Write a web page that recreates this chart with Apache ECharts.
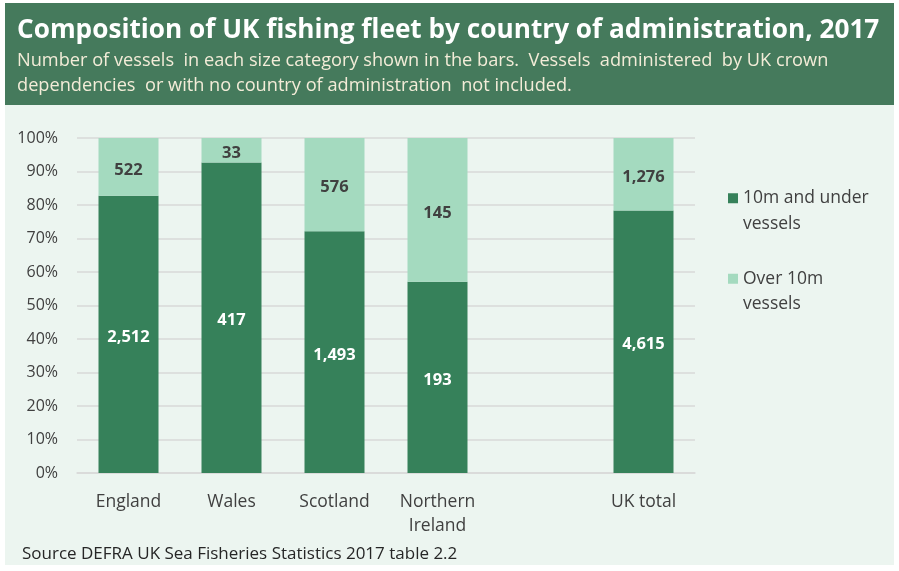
<!DOCTYPE html>
<html><head><meta charset="utf-8">
<script src="https://cdn.jsdelivr.net/npm/echarts@6/dist/echarts.min.js"></script>
<style>html,body{margin:0;padding:0;background:#fff}#c{width:899px;height:571px}</style>
</head><body><div id="c"></div>
<script>
const categories = ['England', 'Wales', 'Scotland', 'Northern\nIreland', '', 'UK total'];
const under10m = [2512, 417, 1493, 193, null, 4615];
const over10m = [522, 33, 576, 145, null, 1276];
const yTicks = ['0%','10%','20%','30%','40%','50%','60%','70%','80%','90%','100%'];

const pctUnder = under10m.map((v, i) => v == null ? null : v / (v + over10m[i]) * 100);
const pctOver = over10m.map((v, i) => v == null ? null : v / (v + under10m[i]) * 100);
const fmt = n => n.toLocaleString('en-GB');

const FONT = '"Open Sans", sans-serif';
const chart = echarts.init(document.getElementById('c'), null, {renderer: 'canvas'});
chart.setOption({
  animation: false,
  backgroundColor: '#ffffff',
  textStyle: {fontFamily: FONT},
  graphic: [
    {type: 'rect', shape: {x: 5, y: 105, width: 889, height: 460}, style: {fill: '#ecf5f0'}, z: -10},
    {type: 'rect', shape: {x: 5, y: 3, width: 889, height: 102}, style: {fill: '#457a5c'}, z: -10},
    {type: 'text', left: 22, top: 546, style: {text: 'Source DEFRA UK Sea Fisheries Statistics 2017 table 2.2', font: '17px ' + FONT, fill: '#262626'}}
  ],
  title: {
    text: 'Composition of UK fishing fleet by country of administration, 2017',
    subtext: 'Number of vessels  in each size category shown in the bars.  Vessels  administered  by UK crown\ndependencies  or with no country of administration  not included.',
    left: 17, top: 15, padding: 0,
    itemGap: 1,
    textStyle: {color: '#ffffff', fontSize: 26.2, lineHeight: 32, fontWeight: 'bold', fontFamily: FONT},
    subtextStyle: {color: '#f3ecd8', fontSize: 18.2, lineHeight: 25, fontFamily: FONT}
  },
  legend: {
    orient: 'vertical', left: 728, top: 160, itemGap: 4, padding: 0,
    itemWidth: 10, itemHeight: 10, icon: 'rect',
    formatter: n => n === '10m and under vessels' ? '\n10m and under\nvessels' : '\nOver 10m\nvessels',
    textStyle: {fontSize: 17.5, color: '#404040', lineHeight: 25.5, fontFamily: FONT},
    data: ['10m and under vessels', 'Over 10m vessels']
  },
  grid: {left: 77, top: 138, width: 618, height: 335},
  xAxis: {
    type: 'category', data: categories,
    axisLine: {lineStyle: {color: '#d9d9d9', width: 1.5}},
    axisTick: {show: false},
    axisLabel: {fontSize: 17.5, color: '#404040', margin: 17, lineHeight: 24, fontFamily: FONT, interval: 0}
  },
  yAxis: {
    type: 'value', min: 0, max: 100, interval: 10,
    axisLabel: {formatter: v => yTicks[Math.round(v / 10)], fontSize: 16, color: '#404040', margin: 19, fontFamily: FONT},
    splitLine: {lineStyle: {color: '#d9d9d9', width: 1.5}},
    axisLine: {show: false}, axisTick: {show: false}
  },
  series: [
    {
      name: '10m and under vessels', type: 'bar', stack: 's', barWidth: 60,
      itemStyle: {color: '#36815a'},
      data: pctUnder,
      label: {show: true, position: 'inside', offset: [0, 3], color: '#ffffff', fontSize: 16.5, fontWeight: 'bold', fontFamily: FONT,
        formatter: p => fmt(under10m[p.dataIndex])}
    },
    {
      name: 'Over 10m vessels', type: 'bar', stack: 's', barWidth: 60,
      itemStyle: {color: '#a4dabf'},
      data: pctOver,
      label: {show: true, position: 'inside', offset: [0, 3], color: '#404040', fontSize: 16.5, fontWeight: 'bold', fontFamily: FONT,
        formatter: p => fmt(over10m[p.dataIndex])}
    }
  ]
});
</script></body></html>
